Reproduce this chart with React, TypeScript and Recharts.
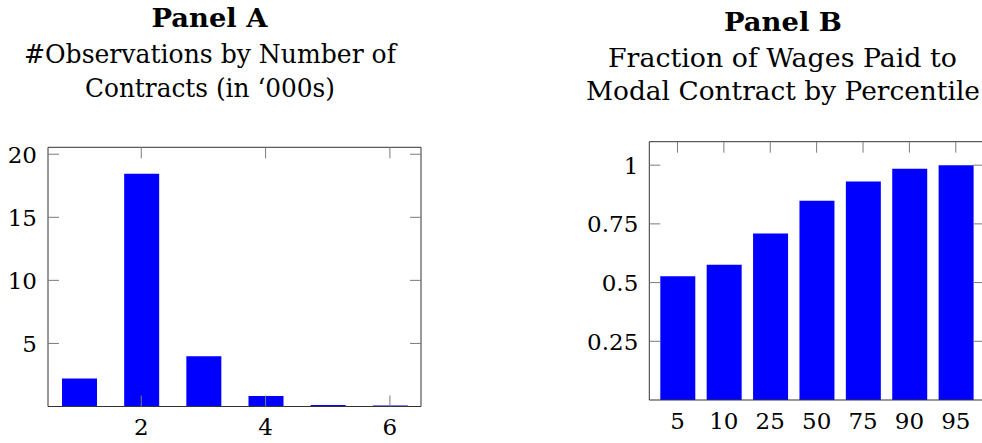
import { BarChart, Bar, XAxis, YAxis } from 'recharts';

// Panel A: observations by number of contracts (in '000s)
const contractCounts = [1, 2, 3, 4, 5, 6];
const observations = [2.22, 18.46, 3.99, 0.84, 0.12, 0.08];
const panelATicksX = [2, 4, 6];
const panelATicksY = [5, 10, 15, 20];

// Panel B: fraction of wages paid to modal contract, by percentile
const percentiles = ['5', '10', '25', '50', '75', '90', '95'];
const modalShare = [0.527, 0.576, 0.709, 0.849, 0.93, 0.985, 1.0];
const panelBTicksY = [0.25, 0.5, 0.75, 1];

const dataA = contractCounts.map((n, i) => ({ n, obs: observations[i] }));
const dataB = percentiles.map((p, i) => ({ p, share: modalShare[i] }));

const FONT = "'DejaVu Serif', serif";
const TICK_COLOR = '#7a7a7a';
const AXIS_COLOR = '#333';
const TICK_LEN = 11;
const LABEL_SIZE = 23;
const BLUE = '#0000ff';

const labelStyle = { fontFamily: FONT, fontSize: LABEL_SIZE };

// left tick: inward mark on both the left and right frame, label on the left
const LeftTick = (props: any) => {
  const { x, y, payload, rightX } = props;
  return (
    <g>
      <line x1={x} x2={x + TICK_LEN} y1={y} y2={y} stroke={TICK_COLOR} strokeWidth={1} />
      <line x1={rightX - TICK_LEN} x2={rightX} y1={y} y2={y} stroke={TICK_COLOR} strokeWidth={1} />
      <text x={x - 11} y={y + 8.5} textAnchor="end" style={labelStyle} fill="#000">
        {String(payload.value)}
      </text>
    </g>
  );
};

// bottom tick: inward mark on top frame (and bottom if asked), label below
const BottomTick = (props: any) => {
  const { x, y, payload, showLine, topY } = props;
  return (
    <g>
      <line x1={x} x2={x} y1={topY} y2={topY + TICK_LEN} stroke={TICK_COLOR} strokeWidth={1} />
      {showLine && <line x1={x} x2={x} y1={y} y2={y - TICK_LEN} stroke={TICK_COLOR} strokeWidth={1} />}
      <text x={x} y={y + 28.5} textAnchor="middle" style={labelStyle} fill="#000">
        {String(payload.value)}
      </text>
    </g>
  );
};

const axisLine = { stroke: AXIS_COLOR, strokeWidth: 1 };

function Titles() {
  const line = (text: string, cx: number, y: number, w: number, bold = false) => (
    <text
      x={cx}
      y={y}
      textAnchor="middle"
      style={{ fontFamily: FONT, fontSize: 26, fontWeight: bold ? 700 : 400 }}
      textLength={w}
      lengthAdjust="spacingAndGlyphs"
      fill="#000"
    >
      {text}
    </text>
  );
  return (
    <svg width={982} height={443} style={{ position: 'absolute', left: 0, top: 0 }}>
      {line('Panel A', 209.5, 26.5, 116, true)}
      {line('#Observations by Number of', 210, 62.5, 372)}
      {line('Contracts (in \u2018000s)', 210, 96.5, 250)}
      {line('Panel B', 783, 31, 118, true)}
      {line('Fraction of Wages Paid to', 782.5, 66.5, 349)}
      {line('Modal Contract by Percentile', 783, 100, 394)}
    </svg>
  );
}

export default function App() {
  return (
    <div
      style={{
        position: 'absolute',
        left: 0,
        top: 0,
        width: 982,
        height: 443,
        overflow: 'hidden',
        background: '#fff',
        fontFamily: FONT,
      }}
    >
      <Titles />
      <div style={{ position: 'absolute', left: 0, top: 120 }}>
        <BarChart width={440} height={323} data={dataA} margin={{ top: 26.3, right: 18, bottom: 0.5, left: 0 }}>
          <XAxis
            xAxisId="top"
            orientation="top"
            type="number"
            dataKey="n"
            domain={[0.5, 6.5]}
            height={1}
            tick={false}
            tickLine={false}
            axisLine={axisLine}
          />
          <XAxis
            type="number"
            dataKey="n"
            domain={[0.5, 6.5]}
            ticks={panelATicksX}
            interval={0}
            height={36}
            tickSize={0}
            tickMargin={0}
            tickLine={false}
            axisLine={axisLine}
            tick={<BottomTick showLine topY={27.3} />}
          />
          <YAxis
            domain={[0, 20.55]}
            ticks={panelATicksY}
            interval={0}
            width={48}
            tickSize={0}
            tickMargin={0}
            tickLine={false}
            axisLine={axisLine}
            tick={<LeftTick rightX={421} />}
          />
          <YAxis
            yAxisId="right"
            orientation="right"
            domain={[0, 20.55]}
            width={1}
            tick={false}
            tickLine={false}
            axisLine={axisLine}
          />
          <Bar dataKey="obs" fill={BLUE} barSize={35} isAnimationActive={false} />
        </BarChart>
      </div>
      <div style={{ position: 'absolute', left: 560, top: 115 }}>
        <BarChart width={440} height={328} data={dataB} margin={{ top: 25.7, right: 15, bottom: 3, left: 0 }}>
          <XAxis
            xAxisId="top"
            orientation="top"
            dataKey="p"
            padding={{ left: 5, right: 5 }}
            height={1}
            tick={false}
            tickLine={false}
            axisLine={axisLine}
          />
          <XAxis
            dataKey="p"
            padding={{ left: 5, right: 5 }}
            interval={0}
            height={40}
            tickSize={0}
            tickMargin={0}
            tickLine={false}
            axisLine={axisLine}
            tick={<BottomTick topY={26.7} />}
          />
          <YAxis
            domain={[0, 1.1]}
            ticks={panelBTicksY}
            interval={0}
            width={89.3}
            tickSize={0}
            tickMargin={0}
            tickLine={false}
            axisLine={axisLine}
            tick={<LeftTick rightX={424} />}
          />
          <YAxis
            yAxisId="right"
            orientation="right"
            domain={[0, 1.1]}
            width={1}
            tick={false}
            tickLine={false}
            axisLine={axisLine}
          />
          <Bar dataKey="share" fill={BLUE} barSize={35} isAnimationActive={false} />
        </BarChart>
      </div>
    </div>
  );
}
